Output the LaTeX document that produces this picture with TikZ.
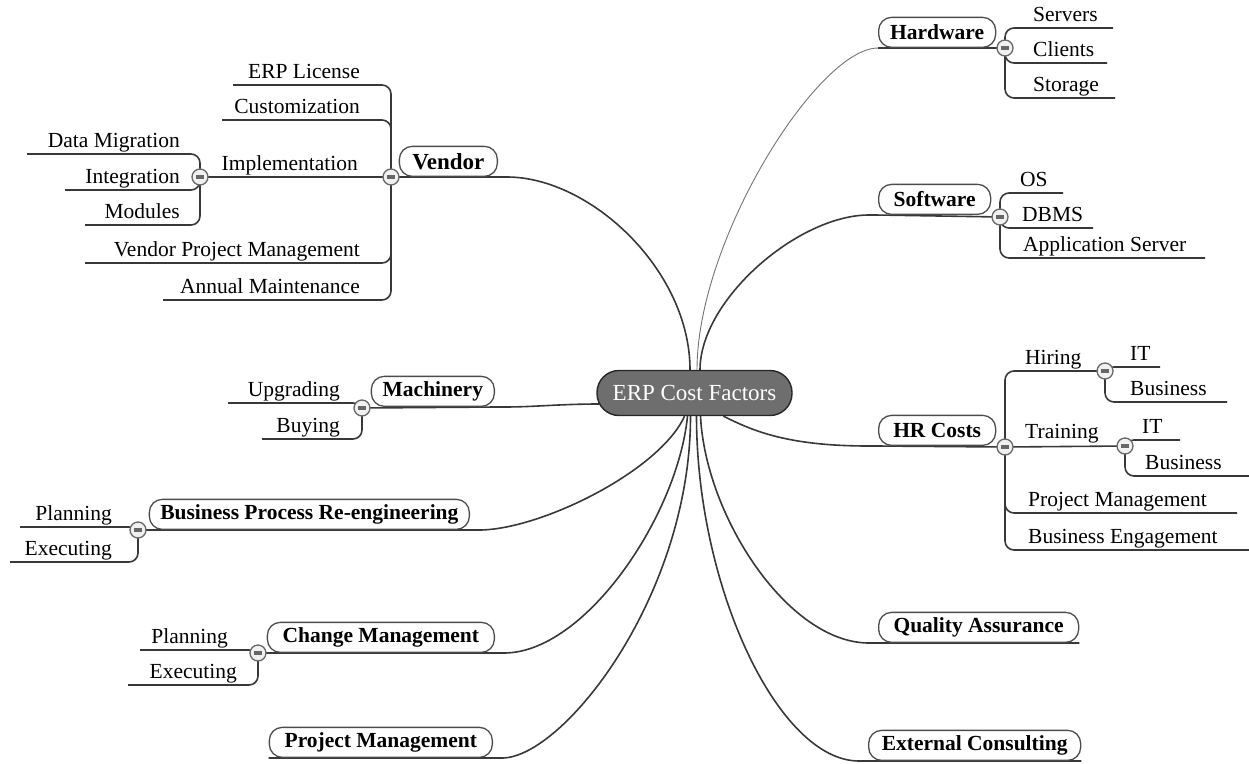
\documentclass[tikz,border=0pt]{standalone}
\usepackage{fontspec}
\setmainfont{Liberation Serif}
\usetikzlibrary{positioning}
\pgfdeclarelayer{bg}
\pgfsetlayers{bg,main}

\begin{document}
\begin{tikzpicture}[x=1pt, y=-1pt,
  root/.style={draw=black!85, line width=1.4pt, fill=black!57, text=white, rounded corners=22pt,
    minimum height=45pt, minimum width=195pt, font=\rmfamily\fontsize{23}{27}\selectfont},
  topic/.style={draw=black!70, line width=1.3pt, rounded corners=13pt, minimum height=30pt,
    inner sep=0pt, font=\rmfamily\bfseries\fontsize{21.5}{25}\selectfont},
  item/.style={inner sep=0pt, font=\rmfamily\mdseries\fontsize{21.5}{25}\selectfont},
  tog/.style={circle, draw=black!60, fill=black!6, line width=1.3pt, minimum size=16pt, inner sep=0pt,
    path picture={\draw[line width=3.2pt] ([xshift=-4.2pt]path picture bounding box.center)
      -- ([xshift=4.2pt]path picture bounding box.center);}},
  link/.style={draw=black!78, line width=1.6pt, rounded corners=9pt},
  thinlink/.style={draw=black!55, line width=0.9pt}]
  \useasboundingbox (0,0) rectangle (1249,763);

  \node[root] (root) at (694.5,393) {ERP Cost Factors};

  % main topics
  \node[topic, anchor=south east, minimum width=98pt, font=\rmfamily\bfseries\fontsize{23}{27}\selectfont] (ven) at (498,177) {Vendor};
  \node[topic, anchor=south west, minimum width=117pt] (hw) at (878,48) {Hardware};
  \node[topic, anchor=south west, minimum width=112pt] (sw) at (878,215) {Software};
  \node[topic, anchor=south east, minimum width=123pt] (mach) at (495,407) {Machinery};
  \node[topic, anchor=south west, minimum width=117pt] (hr) at (878,446) {HR Costs};
  \node[topic, anchor=south east, minimum width=320pt] (bpr) at (470,530) {Business Process Re-engineering};
  \node[topic, anchor=south east, minimum width=227pt] (cm) at (495,653) {Change Management};
  \node[topic, anchor=south east, minimum width=223pt] (pm) at (493,758) {Project Management};
  \node[topic, anchor=south west, minimum width=200pt] (qa) at (878,643) {Quality Assurance};
  \node[topic, anchor=south west, minimum width=212pt] (ec) at (868,761) {External Consulting};

  % collapse buttons
  \node[tog] (tVen) at (391,177) {};
  \node[tog] (tImpl) at (200,177) {};
  \node[tog] (tHw) at (1005,48) {};
  \node[tog] (tSw) at (1000,217) {};
  \node[tog] (tMach) at (362,408) {};
  \node[tog] (tHr) at (1005,447) {};
  \node[tog] (tHire) at (1105,371) {};
  \node[tog] (tTrain) at (1125,446) {};
  \node[tog] (tBpr) at (138,530) {};
  \node[tog] (tCm) at (258,653) {};

  % vendor items
  \node[item, anchor=base east] (lic) at (360,78) {ERP License};
  \node[item, anchor=base east] (cust) at (360,113) {Customization};
  \node[item, anchor=base east] (impl) at (358,170) {Implementation};
  \node[item, anchor=base east] (migr) at (180,147) {Data Migration};
  \node[item, anchor=base east] (integ) at (180,183) {Integration};
  \node[item, anchor=base east] (modul) at (180,218) {Modules};
  \node[item, anchor=base east] (vpm) at (360,256) {Vendor Project Management};
  \node[item, anchor=base east] (maint) at (360,293) {Annual Maintenance};
  \coordinate (licE) at (233,85);
  \coordinate (custE) at (222,120);
  \coordinate (migrE) at (27,154);
  \coordinate (integE) at (65,190);
  \coordinate (modulE) at (85,225);
  \coordinate (vpmE) at (85,263);
  \coordinate (maintE) at (163,300);

  % hardware and software items
  \node[item, anchor=base west] (serv) at (1033,21) {Servers};
  \node[item, anchor=base west] (cli) at (1033,56) {Clients};
  \node[item, anchor=base west] (stor) at (1033,91) {Storage};
  \node[item, anchor=base west] (os) at (1020,186) {OS};
  \node[item, anchor=base west] (dbms) at (1022,221) {DBMS};
  \node[item, anchor=base west] (apps) at (1023,251) {Application Server};
  \coordinate (servE) at (1113,28);
  \coordinate (cliE) at (1107,63);
  \coordinate (storE) at (1115,98);
  \coordinate (osE) at (1063,193);
  \coordinate (dbmsE) at (1093,228);
  \coordinate (appsE) at (1205,258);

  % machinery items
  \node[item, anchor=base east] (upg) at (340,396) {Upgrading};
  \node[item, anchor=base east] (buy) at (340,432) {Buying};
  \coordinate (upgE) at (228,403);
  \coordinate (buyE) at (262,439);

  % hr items
  \node[item, anchor=base west] (hire) at (1025,364) {Hiring};
  \node[item, anchor=base west] (train) at (1025,438) {Training};
  \node[item, anchor=base west] (hIT) at (1130,360) {IT};
  \node[item, anchor=base west] (hBus) at (1130,395) {Business};
  \node[item, anchor=base west] (tIT) at (1142,433) {IT};
  \node[item, anchor=base west] (tBus) at (1145,469) {Business};
  \node[item, anchor=base west] (hrpm) at (1028,506) {Project Management};
  \node[item, anchor=base west] (eng) at (1028,543) {Business Engagement};
  \coordinate (hITE) at (1160,367);
  \coordinate (hBusE) at (1227,402);
  \coordinate (tITE) at (1180,440);
  \coordinate (tBusE) at (1249,476);
  \coordinate (hrpmE) at (1237,513);
  \coordinate (engE) at (1249,550);

  % bpr and change items
  \node[item, anchor=base east] (bplan) at (112,520) {Planning};
  \node[item, anchor=base east] (bexec) at (112,555) {Executing};
  \node[item, anchor=base east] (cplan) at (228,643) {Planning};
  \node[item, anchor=base east] (cexec) at (237,678) {Executing};
  \coordinate (bplanE) at (20,527);
  \coordinate (bexecE) at (10,562);
  \coordinate (cplanE) at (140,650);
  \coordinate (cexecE) at (128,685);

  \begin{pgfonlayer}{bg}
    % from the root
    \draw[link] ([xshift=-4.5pt]root.north) .. controls +(0,-100) and +(92,0) .. (ven.south east) -- (tVen.center);
    \draw[thinlink] ([xshift=2.5pt]root.north) .. controls +(0,-130) and +(-60,0) .. (hw.south west);
    \draw[link] (hw.south west) -- (tHw.center);
    \draw[link] ([xshift=5.5pt]root.north) .. controls +(0,-70) and +(-80,0) .. (sw.south west) -- (tSw.center);
    \draw[link] ([shift={(3pt,-11pt)}]root.west) .. controls +(-40,0) and +(40,0) .. (mach.south east) -- (tMach.center);
    \draw[link] ([xshift=29pt]root.south) .. controls +(30,15) and +(-90,0) .. (hr.south west) -- (tHr.center);
    \draw[link] ([xshift=-10pt]root.south) .. controls +(-25,55) and +(70,0) .. (bpr.south east) -- (tBpr.center);
    \draw[link] ([xshift=-7pt]root.south) .. controls +(-10,100) and +(90,0) .. (cm.south east) -- (tCm.center);
    \draw[link] ([xshift=-4pt]root.south) .. controls +(0,180) and +(70,0) .. (pm.south east) -- (pm.south west);
    \draw[link] ([xshift=6pt]root.south) .. controls +(5,100) and +(-90,0) .. (qa.south west) -- (qa.south east);
    \draw[link] ([xshift=2pt]root.south) .. controls +(0,170) and +(-90,0) .. (ec.south west) -- (ec.south east);

    % vendor
    \foreach \e in {licE,custE,vpmE,maintE} \draw[link] (tVen.center) |- (\e);
    \draw[link] (tVen.center) -- (tImpl.center);
    \foreach \e in {migrE,integE,modulE} \draw[link] (tImpl.center) |- (\e);

    % hardware, software
    \foreach \e in {servE,cliE,storE} \draw[link] (tHw.center) |- (\e);
    \foreach \e in {osE,dbmsE,appsE} \draw[link] (tSw.center) |- (\e);

    % machinery
    \foreach \e in {upgE,buyE} \draw[link] (tMach.center) |- (\e);

    % hr costs
    \draw[link] (tHr.center) |- (tHire.center);
    \draw[link] (tHr.center) -- (tTrain.center);
    \foreach \e in {hrpmE,engE} \draw[link] (tHr.center) |- (\e);
    \foreach \e in {hITE,hBusE} \draw[link] (tHire.center) |- (\e);
    \foreach \e in {tITE,tBusE} \draw[link] (tTrain.center) |- (\e);

    % bpr, change management
    \foreach \e in {bplanE,bexecE} \draw[link] (tBpr.center) |- (\e);
    \foreach \e in {cplanE,cexecE} \draw[link] (tCm.center) |- (\e);
  \end{pgfonlayer}
\end{tikzpicture}
\end{document}
